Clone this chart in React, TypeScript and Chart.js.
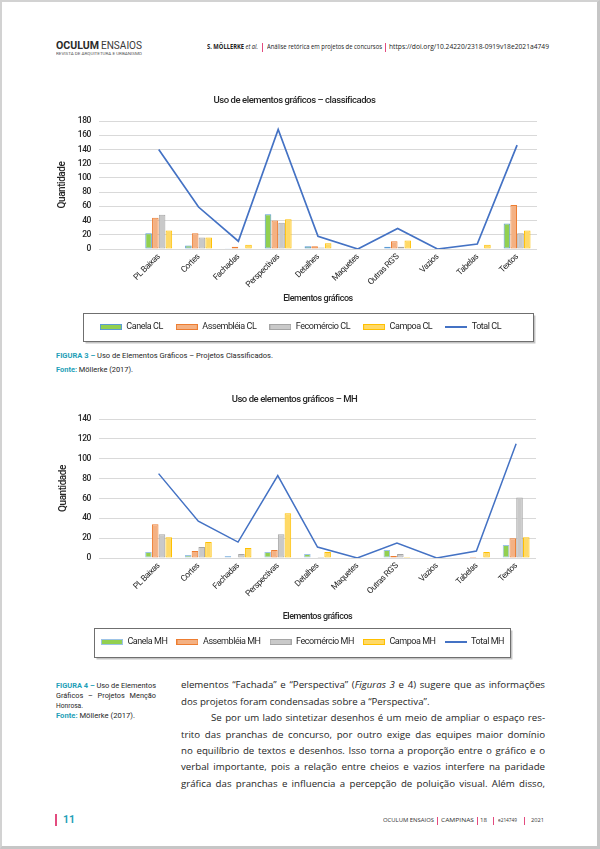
import React, { useEffect, useLayoutEffect, useRef } from "react";
import { Chart, registerables } from "chart.js";
Chart.register(...registerables);

// ---------- DATA ----------
const categories = ["PL Baixas", "Cortes", "Fachadas", "Perspectivas", "Detalhes", "Maquetes", "Outras RG'S", "Vazios", "Tabelas", "Textos"];

const canelaCL = [22, 5, 1, 49, 4, 0, 3, 0, 0, 36];
const assembleiaCL = [44, 22, 3, 40, 4, 0, 11, 0, 0, 62];
const fecomercioCL = [48, 16, 1, 37, 2, 0, 3, 0, 1, 22];
const campoaCL = [26, 16, 6, 42, 8, 0, 12, 0, 6, 26];
const totalCL = [140, 59, 11, 168, 18, 0, 29, 0, 7, 146];

const canelaMH = [6, 3, 2, 6, 4, 0, 8, 0, 0, 13];
const assembleiaMH = [34, 7, 0, 8, 0, 0, 2, 0, 1, 20];
const fecomercioMH = [24, 11, 4, 24, 1, 0, 4, 0, 0, 61];
const campoaMH = [21, 16, 10, 45, 6, 0, 1, 0, 6, 21];
const totalMH = [85, 37, 16, 83, 11, 0, 15, 0, 7, 115];

const yMaxCL = 180;
const yMaxMH = 140;
const yStep = 20;

// ---------- STYLE ----------
const NARROW = "Roboto,'Liberation Sans',sans-serif";
const BODY = "'Open Sans',Lato,sans-serif";
const TEAL = "#1f9fb8";
const PINK = "#e34b7f";
const LINE = "#4472c4";
const TXT = "#262626";
const SPACING = "-0.45px";

function swatch(bg: string, border: string, isLine: boolean) {
  const c = document.createElement("canvas");
  c.width = 22;
  c.height = isLine ? 2 : 6;
  const ctx = c.getContext("2d")!;
  if (isLine) {
    ctx.fillStyle = border;
    ctx.fillRect(0, 0, 22, 2);
  } else {
    ctx.fillStyle = border;
    ctx.fillRect(0, 0, 22, 6);
    ctx.fillStyle = bg;
    ctx.fillRect(1, 1, 20, 4);
  }
  return c;
}

const narrowText = {
  id: "narrowText",
  beforeUpdate(chart: any) {
    chart.ctx.letterSpacing = SPACING;
  },
  beforeLayout(chart: any) {
    chart.ctx.letterSpacing = SPACING;
  },
  beforeDraw(chart: any) {
    chart.ctx.letterSpacing = SPACING;
  },
};

// frame around the legend (x1/x2 in canvas pixels, vertical extent around the item centre)
const legendBox = {
  id: "legendBox",
  afterLayout(chart: any, _a: any, opts: any) {
    const lg = chart.legend;
    if (!lg || !opts.dx) return;
    lg.left += opts.dx;
    lg.right += opts.dx;
  },
  afterDraw(chart: any, _a: any, opts: any) {
    const lg = chart.legend;
    if (!lg || !lg.legendHitBoxes || !lg.legendHitBoxes.length) return;
    const hb = lg.legendHitBoxes;
    const l = Math.round(opts.x1) + 0.5;
    const r = Math.round(opts.x2) + 0.5;
    const cy = hb[0].top + hb[0].height / 2;
    const t = Math.round(cy - opts.up) + 0.5;
    const b = Math.round(cy + opts.down) + 0.5;
    const ctx = chart.ctx;
    ctx.save();
    ctx.strokeStyle = "#c4c4c4";
    ctx.lineWidth = 1.5;
    ctx.beginPath();
    ctx.moveTo(r + 1.2, t + 2);
    ctx.lineTo(r + 1.2, b + 1.2);
    ctx.lineTo(l + 2, b + 1.2);
    ctx.stroke();
    ctx.strokeStyle = "#6f6f6f";
    ctx.lineWidth = 1;
    ctx.strokeRect(l, t, r - l, b - t);
    ctx.restore();
  },
};

type Bar = { label: string; data: number[]; bg: string; border: string };

function buildConfig(o: {
  title: string;
  bars: Bar[];
  lineLabel: string;
  line: number[];
  lineWidth: number;
  yMax: number;
  padL: number;
  padR: number;
  padB: number;
  yW: number;
  xH: number;
  titlePT: number;
  titlePB: number;
  xTitleLH: number;
  legendPad: number;
  box: { x1: number; x2: number; up: number; down: number; dx: number };
}): any {
  const labels = ["", ...categories];
  const pad = (a: number[]) => [null, ...a];
  const datasets: any[] = o.bars.map((b) => ({
    type: "bar",
    label: b.label,
    data: pad(b.data),
    backgroundColor: b.bg,
    borderColor: b.border,
    borderWidth: 1,
    borderSkipped: false,
    categoryPercentage: 0.68,
    barPercentage: 0.97,
    _bg: b.bg,
    _border: b.border,
  }));
  datasets.push({
    type: "line",
    label: o.lineLabel,
    data: pad(o.line),
    borderColor: LINE,
    backgroundColor: LINE,
    borderWidth: o.lineWidth,
    pointRadius: 0,
    pointHoverRadius: 0,
    fill: false,
    tension: 0,
    _bg: LINE,
    _border: LINE,
    _line: true,
  });
  return {
    type: "bar",
    data: { labels, datasets },
    plugins: [narrowText, legendBox],
    options: {
      animation: false,
      responsive: true,
      maintainAspectRatio: false,
      layout: { padding: { left: o.padL, right: o.padR, top: 0, bottom: o.padB } },
      plugins: {
        tooltip: { enabled: false },
        title: {
          display: true,
          text: o.title,
          color: TXT,
          font: { family: NARROW, size: 9.5, weight: "500", lineHeight: 1.2 },
          padding: { top: o.titlePT, bottom: o.titlePB },
        },
        legend: {
          position: "bottom",
          labels: {
            usePointStyle: true,
            pointStyleWidth: 22,
            boxHeight: 6,
            padding: o.legendPad,
            color: TXT,
            font: { family: NARROW, size: 9 },
            generateLabels: (chart: any) =>
              chart.data.datasets.map((ds: any, i: number) => ({
                text: ds.label,
                fillStyle: ds._bg,
                strokeStyle: ds._border,
                lineWidth: 0,
                pointStyle: swatch(ds._bg, ds._border, !!ds._line),
                hidden: !chart.isDatasetVisible(i),
                datasetIndex: i,
                fontColor: TXT,
              })),
          },
        },
        legendBox: o.box,
      },
      scales: {
        x: {
          type: "category",
          offset: true,
          grid: { display: false, drawTicks: false },
          border: { display: false },
          ticks: {
            autoSkip: false,
            minRotation: 45,
            maxRotation: 45,
            padding: 3,
            color: TXT,
            font: { family: NARROW, size: 8.5 },
          },
          title: {
            display: true,
            text: "Elementos gráficos",
            color: TXT,
            font: { family: NARROW, size: 9, weight: "500", lineHeight: o.xTitleLH },
            padding: { top: 0, bottom: 0 },
          },
          afterFit: (s: any) => {
            s.height = o.xH;
          },
        },
        y: {
          min: 0,
          max: o.yMax,
          ticks: { stepSize: yStep, padding: 8, color: TXT, font: { family: NARROW, size: 8.5, weight: "500" } },
          grid: { color: "#d9d9d9", lineWidth: 1, drawTicks: false },
          border: { display: false },
          title: {
            display: true,
            text: "Quantidade",
            color: TXT,
            font: { family: NARROW, size: 10, weight: "500", lineHeight: 1.2 },
            padding: { top: 4, bottom: 0 },
          },
          afterFit: (s: any) => {
            s.width = o.yW;
          },
        },
      },
    },
  };
}

function ChartBox({ left, top, width, height, make }: { left: number; top: number; width: number; height: number; make: () => any }) {
  const ref = useRef<HTMLCanvasElement>(null);
  useEffect(() => {
    const chart = new Chart(ref.current!, make());
    return () => chart.destroy();
  }, []);
  return (
    <div style={{ position: "absolute", left, top, width, height }}>
      <canvas ref={ref} />
    </div>
  );
}

function Fit({ x, y, w, size, family = NARROW, color = TXT, weight = "normal", children, style = {} }: any) {
  const ref = useRef<HTMLSpanElement>(null);
  useLayoutEffect(() => {
    const el = ref.current;
    if (!el) return;
    el.style.transform = "none";
    const nat = el.getBoundingClientRect().width;
    if (nat > 0) el.style.transform = `scaleX(${w / nat})`;
  });
  return (
    <span
      ref={ref}
      style={{
        position: "absolute",
        left: x,
        top: y - size * 0.6,
        lineHeight: `${size * 1.2}px`,
        fontSize: size,
        whiteSpace: "nowrap",
        transformOrigin: "0 50%",
        fontFamily: family,
        color,
        fontWeight: weight,
        ...style,
      }}
    >
      {children}
    </span>
  );
}

function Bar({ x, y, h, w = 1 }: { x: number; y: number; h: number; w?: number }) {
  return <div style={{ position: "absolute", left: x, top: y, width: w, height: h, background: PINK }} />;
}

function BodyLine({ y, indent = 0, justify = true, children }: any) {
  const ref = useRef<HTMLDivElement>(null);
  useLayoutEffect(() => {
    const el = ref.current;
    if (!el) return;
    let ls = 0;
    el.style.letterSpacing = "0px";
    while (el.scrollHeight > 18 && ls > -1.5) {
      ls -= 0.05;
      el.style.letterSpacing = `${ls}px`;
    }
  });
  return (
    <div
      ref={ref}
      style={{
        position: "absolute",
        left: 181 + indent,
        width: 364 - indent,
        top: y - 8,
        lineHeight: "16px",
        fontSize: 9.7,
        fontFamily: BODY,
        color: "#1e1e1e",
        textAlign: justify ? "justify" : "left",
        textAlignLast: justify ? "justify" : "left",
      }}
    >
      {children}
    </div>
  );
}

const cfg1 = () =>
  buildConfig({
    title: "Uso de elementos gráficos – classificados",
    bars: [
      { label: "Canela CL", data: canelaCL, bg: "#92d050", border: "#5b9bd5" },
      { label: "Assembléia CL", data: assembleiaCL, bg: "#f4b183", border: "#ed7d31" },
      { label: "Fecomércio CL", data: fecomercioCL, bg: "#c9c9c9", border: "#a5a5a5" },
      { label: "Campoa CL", data: campoaCL, bg: "#ffd966", border: "#ffc000" },
    ],
    lineLabel: "Total CL",
    line: totalCL,
    lineWidth: 1.7,
    yMax: yMaxCL,
    padL: 12,
    padR: 23,
    padB: 4.5,
    yW: 47,
    xH: 60.5,
    titlePT: 5.3,
    titlePB: 14.3,
    xTitleLH: 2.33,
    legendPad: 13,
    box: { x1: 43, x2: 493, up: 14, down: 14, dx: 6 },
  });

const cfg2 = () =>
  buildConfig({
    title: "Uso de elementos gráficos – MH",
    bars: [
      { label: "Canela MH", data: canelaMH, bg: "#92d050", border: "#9dc3e6" },
      { label: "Assembléia MH", data: assembleiaMH, bg: "#f4b183", border: "#ed7d31" },
      { label: "Fecomércio MH", data: fecomercioMH, bg: "#c9c9c9", border: "#a5a5a5" },
      { label: "Campoa MH", data: campoaMH, bg: "#ffd966", border: "#ffc000" },
    ],
    lineLabel: "Total MH",
    line: totalMH,
    lineWidth: 1.5,
    yMax: yMaxMH,
    padL: 13,
    padR: 24,
    padB: 4.5,
    yW: 46,
    xH: 70.5,
    titlePT: 5.6,
    titlePB: 14,
    xTitleLH: 2.56,
    legendPad: 9,
    box: { x1: 54, x2: 470, up: 14, down: 15, dx: 8 },
  });

export default function App() {
  return (
    <div style={{ position: "fixed", left: 0, top: 0, width: 600, height: 849, background: "#fff", overflow: "hidden" }}>
      <div
        style={{
          position: "absolute",
          left: 0,
          top: 0,
          width: 600,
          height: 849,
          boxSizing: "border-box",
          borderTop: "2px solid #d2d2d2",
          borderLeft: "2px solid #d2d2d2",
          borderRight: "3px solid #c6c6c6",
          borderBottom: "3px solid #c6c6c6",
        }}
      />

      {/* Header */}
      <Fit x={56} y={45.5} w={43} size={11} weight="bold" color="#2a2a2a">OCULUM</Fit>
      <Fit x={101} y={45.5} w={41} size={11} color="#3a3a3a">ENSAIOS</Fit>
      <Fit x={56} y={53.5} w={86} size={4.2} color="#555">REVISTA DE ARQUITETURA E URBANISMO</Fit>

      <Fit x={207} y={46.7} w={51} size={6.8} family={BODY} color="#222">
        <span style={{ fontWeight: "bold" }}>S. MÖLLERKE</span> <i>et al.</i>
      </Fit>
      <Bar x={261.5} y={42.5} h={9} />
      <Fit x={267} y={46.7} w={115} size={6.8} family={BODY} color="#222">Análise retórica em projetos de concursos</Fit>
      <Bar x={384.5} y={42.5} h={9} />
      <Fit x={389} y={46.7} w={160} size={6.8} family={BODY} color="#222">https://doi.org/10.24220/2318-0919v18e2021a4749</Fit>

      {/* Chart 1 */}
      <ChartBox left={40} top={90} width={520} height={256} make={cfg1} />

      <Fit x={56} y={355} w={217} size={7.5}>
        <span style={{ color: TEAL, fontWeight: "bold" }}>FIGURA 3 –</span> Uso de Elementos Gráficos – Projetos Classificados.
      </Fit>
      <Fit x={56} y={369} w={77} size={7.5}>
        <span style={{ color: TEAL, fontWeight: "bold" }}>Fonte:</span> Möllerke (2017).
      </Fit>

      {/* Chart 2 */}
      <ChartBox left={40} top={388} width={520} height={273} make={cfg2} />

      {/* Figure 4 caption */}
      <Fit x={56} y={685} w={100} size={7.5}>
        <span style={{ color: TEAL, fontWeight: "bold" }}>FIGURA 4 –</span> Uso de Elementos
      </Fit>
      <Fit x={56} y={695.5} w={100} size={7.5} style={{ wordSpacing: 3 }}>Gráficos – Projetos Menção</Fit>
      <Fit x={56} y={705} w={27} size={7.5}>Honrosa.</Fit>
      <Fit x={56} y={715} w={79} size={7.5}>
        <span style={{ color: TEAL, fontWeight: "bold" }}>Fonte:</span> Möllerke (2017).
      </Fit>

      {/* Body text */}
      <BodyLine y={685.3}>
        elementos “Fachada” e “Perspectiva” (<i>Figuras 3</i> e 4) sugere que as informações
      </BodyLine>
      <BodyLine y={701.7} justify={false}>
        dos projetos foram condensadas sobre a “Perspectiva”.
      </BodyLine>
      <BodyLine y={718.1} indent={30}>
        Se por um lado sintetizar desenhos é um meio de ampliar o espaço res-
      </BodyLine>
      <BodyLine y={734.5}>trito das pranchas de concurso, por outro exige das equipes maior domínio</BodyLine>
      <BodyLine y={750.9}>no equilíbrio de textos e desenhos. Isso torna a proporção entre o gráfico e o</BodyLine>
      <BodyLine y={767.3}>verbal importante, pois a relação entre cheios e vazios interfere na paridade</BodyLine>
      <BodyLine y={783.7}>gráfica das pranchas e influencia a percepção de poluição visual. Além disso,</BodyLine>

      {/* Footer */}
      <Bar x={55} y={814} h={12} w={2} />
      <Fit x={63} y={820} w={12} size={10} weight="bold" color={TEAL}>11</Fit>
      <Fit x={383} y={820.5} w={51} size={5.5} family={BODY} color="#333">OCULUM ENSAIOS</Fit>
      <Bar x={437} y={816.5} h={8} />
      <Fit x={441} y={820.5} w={33} size={5.5} family={BODY} color="#333">CAMPINAS</Fit>
      <Bar x={476.5} y={816.5} h={8} />
      <Fit x={480} y={820.5} w={7} size={5.5} family={BODY} color="#333">18</Fit>
      <Bar x={492.5} y={816.5} h={8} />
      <Fit x={498} y={820.5} w={19} size={5.5} family={BODY} color="#333">e214749</Fit>
      <Bar x={523.5} y={816.5} h={8} />
      <Fit x={531} y={820.5} w={13} size={5.5} family={BODY} color="#333">2021</Fit>
    </div>
  );
}
